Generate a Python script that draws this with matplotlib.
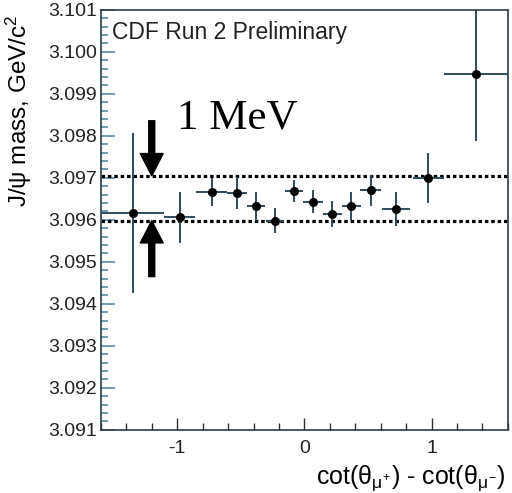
import matplotlib
matplotlib.use("Agg")
import matplotlib.pyplot as plt
from matplotlib.ticker import MultipleLocator, FormatStrFormatter

# bins of cot(theta_mu+) - cot(theta_mu-)
x_center = [-1.35, -0.98, -0.73, -0.53, -0.38, -0.23, -0.08, 0.07, 0.22, 0.37, 0.52, 0.72, 0.975, 1.35]
x_half = [0.25, 0.12, 0.12, 0.08, 0.072, 0.072, 0.072, 0.078, 0.075, 0.075, 0.08, 0.107, 0.12, 0.25]
# J/psi mass and its error (GeV/c^2)
mass = [3.09617, 3.09606, 3.09666, 3.09664, 3.09632, 3.09598, 3.09669,
        3.09643, 3.09614, 3.09633, 3.09670, 3.09626, 3.09699, 3.09947]
mass_err = [0.0019, 0.0006, 0.00034, 0.00039, 0.00035, 0.0003, 0.00027,
            0.00027, 0.0003, 0.00033, 0.00038, 0.0004, 0.0006, 0.0016]

band_lo, band_hi = 3.09598, 3.09705
arrow_x = -1.2

plt.rcParams["font.family"] = ["Liberation Sans", "DejaVu Sans"]
plt.rcParams["mathtext.fontset"] = "custom"
plt.rcParams["mathtext.rm"] = "Liberation Sans"
plt.rcParams["mathtext.it"] = "Liberation Sans"

fig = plt.figure(figsize=(5.12, 4.93), dpi=100)
ax = fig.add_axes([0.197, 0.128, 0.795, 0.852])

frame_col = "#2e3c44"
bar_col = "#2f4b5a"

ax.errorbar(x_center, mass, xerr=x_half, yerr=mass_err, fmt="o", color="black",
            ecolor=bar_col, elinewidth=1.4, markersize=5.5, capsize=0, zorder=3)

# 1 MeV band
for yb in (band_lo, band_hi):
    ax.axhline(yb, color="black", lw=2.3, linestyle=(0, (1.1, 0.9)),
               dash_capstyle="butt", zorder=2)

ax.annotate("", xy=(arrow_x, band_hi), xytext=(arrow_x, 3.09836),
            arrowprops=dict(width=4.3, headwidth=16.5, headlength=16,
                            color="black", shrink=0))
ax.annotate("", xy=(arrow_x, band_lo), xytext=(arrow_x, 3.09465),
            arrowprops=dict(width=4.3, headwidth=16.5, headlength=16,
                            color="black", shrink=0))
ax.text(-1.0, 3.09817, "1 MeV", family="Liberation Serif", fontsize=31,
        ha="left", va="baseline")

ax.text(0.027, 0.931, "CDF Run 2 Preliminary", transform=ax.transAxes,
        fontsize=16.5, color="#222222", ha="left", va="baseline")

ax.set_xlim(-1.6, 1.6)
ax.set_ylim(3.091, 3.101)
ax.xaxis.set_major_locator(MultipleLocator(1))
ax.xaxis.set_minor_locator(MultipleLocator(0.2))
ax.yaxis.set_major_locator(MultipleLocator(0.001))
ax.yaxis.set_minor_locator(MultipleLocator(0.0002))
ax.xaxis.set_major_formatter(FormatStrFormatter("%g"))
ax.yaxis.set_major_formatter(FormatStrFormatter("%.3f"))

ax.tick_params(axis="both", which="both", direction="in", labelsize=14,
               labelcolor="#222222")
ax.tick_params(axis="x", which="major", length=9, width=1, color="#333333", pad=7)
ax.tick_params(axis="x", which="minor", length=5, width=1, color="#333333")
ax.tick_params(axis="y", which="major", length=10, width=1.2, color="#5a8aa8", pad=3)
ax.tick_params(axis="y", which="minor", length=5, width=1.2, color="#5a8aa8")

for s in ax.spines.values():
    s.set_color(frame_col)
    s.set_linewidth(1.2)

ax.set_ylabel("J/ψ mass, GeV/c$^{2}$", fontsize=17.5, loc="top")
ax.yaxis.set_label_coords(-0.165, 0.99)
ax.set_xlabel("cot(θ$_{μ^{+}}$) - cot(θ$_{μ^{-}}$)", fontsize=18, loc="right")
ax.xaxis.set_label_coords(0.995, -0.08)

fig.savefig("out.png", dpi=100)
